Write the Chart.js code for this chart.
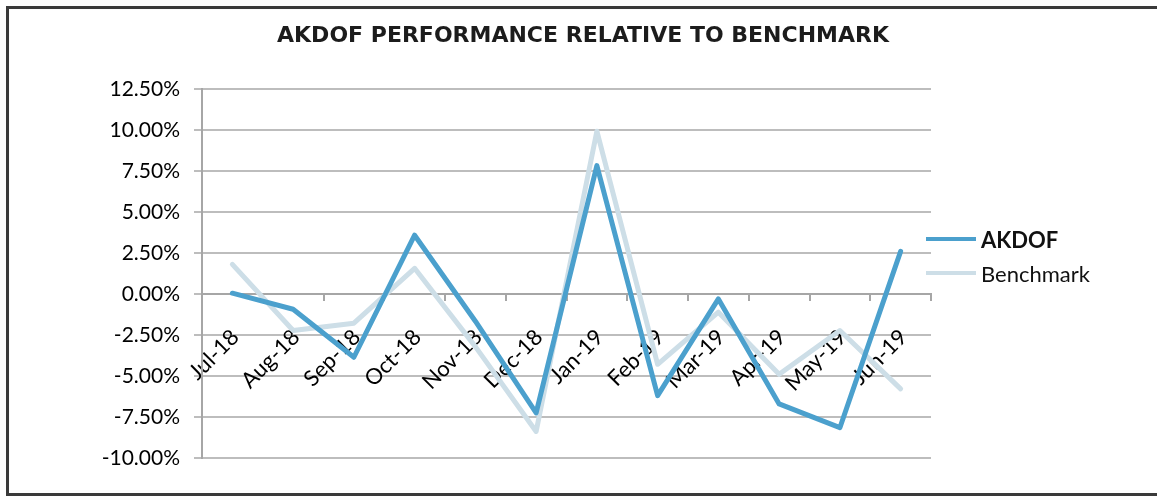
<!DOCTYPE html>
<html>
<head>
<meta charset="utf-8">
<title>AKDOF performance relative to benchmark</title>
<script src="https://cdn.jsdelivr.net/npm/chart.js@4.4.1/dist/chart.umd.min.js"></script>
<style>
  html, body { margin: 0; padding: 0; background: #fff; }
  #wrap { position: relative; width: 1157px; height: 496px; overflow: hidden; }
  #frame {
    position: absolute; left: 6px; top: 6px; width: 1200px; height: 490px;
    box-sizing: border-box; border: 3px solid #3a3a3a;
  }
  #chart { position: absolute; left: 0; top: 0; }
  #legend { position: absolute; left: 926px; top: 222px; font-family: Lato, sans-serif; font-size: 22px; color: #111; }
  #legend .item { display: flex; align-items: center; height: 34px; }
  #legend .swatch { width: 50px; height: 4px; margin-right: 5px; }
</style>
</head>
<body>
<div id="wrap">
  <div id="frame"></div>
  <canvas id="chart" width="1157" height="496"></canvas>
  <div id="legend"></div>
</div>
<script>
document.addEventListener('DOMContentLoaded', function() {

  const TITLE = 'AKDOF PERFORMANCE RELATIVE TO BENCHMARK';
  const months = ['Jul-18', 'Aug-18', 'Sep-18', 'Oct-18', 'Nov-18', 'Dec-18',
                  'Jan-19', 'Feb-19', 'Mar-19', 'Apr-19', 'May-19', 'Jun-19'];
  // monthly returns, %
  const akdof     = [0.06, -0.92, -3.85, 3.60, -1.65, -7.25, 7.85, -6.19, -0.29, -6.70, -8.15, 2.61];
  const benchmark = [1.82, -2.22, -1.77, 1.58, -3.20, -8.38, 9.95, -4.28, -1.10, -4.89, -2.22, -5.78];
  const yMin = -10, yMax = 12.5, yStep = 2.5;

  const colorAkdof = '#4ba0cd';
  const colorBench = '#cddee7';
  const colorGrid  = '#bdbdbd';
  const colorAxis  = '#a6a6a6';

  const series = [
    { label: 'AKDOF', data: akdof, color: colorAkdof, bold: true },
    { label: 'Benchmark', data: benchmark, color: colorBench, bold: false }
  ];

  new Chart(document.getElementById('chart'), {
    type: 'line',
    data: {
      labels: months,
      datasets: series.map(s => ({
        label: s.label,
        data: s.data,
        borderColor: s.color,
        backgroundColor: s.color,
        borderWidth: 5,
        borderJoinStyle: 'round',
        borderCapStyle: 'round',
        pointRadius: 0,
        tension: 0
      }))
    },
    options: {
      responsive: false,
      devicePixelRatio: 1,
      animation: false,
      layout: { padding: { left: 9, right: 0, top: 0, bottom: 38 } },
      plugins: {
        legend: { display: false },
        tooltip: { enabled: false },
        title: {
          display: true,
          text: TITLE,
          color: '#1c1c1c',
          font: { family: 'DejaVu Sans', size: 22, weight: 'bold' },
          padding: { top: 23, bottom: 40 }
        }
      },
      scales: {
        x: {
          position: { y: 0 },
          offset: true,
          grid: { display: true, offset: true, drawOnChartArea: false, drawTicks: true,
                  tickLength: 6, color: colorAxis, lineWidth: 2 },
          border: { display: true, color: colorAxis, width: 2 },
          ticks: { autoSkip: false, minRotation: 45, maxRotation: 45, padding: 24, labelOffset: 3,
                   color: '#000', font: { family: 'Lato', size: 22 } }
        },
        y: {
          min: yMin,
          max: yMax,
          afterFit: s => { s.width = 193; },
          grid: { color: colorGrid, lineWidth: 2, tickLength: 8 },
          border: { color: colorAxis, width: 2 },
          ticks: { stepSize: yStep, padding: 14, color: '#000', font: { family: 'Lato', size: 21 },
                   callback: v => v.toFixed(2) + '%' }
        },
        // empty right-hand axis that only reserves room for the legend
        legendRoom: {
          type: 'linear',
          position: 'right',
          afterFit: s => { s.width = 226; },
          grid: { display: false },
          border: { display: false },
          ticks: { display: false }
        }
      }
    }
  });

  // legend: AKDOF in bold, Benchmark regular
  const legend = document.getElementById('legend');
  series.forEach(s => {
    const item = document.createElement('div');
    item.className = 'item';
    const sw = document.createElement('span');
    sw.className = 'swatch';
    sw.style.background = s.color;
    const txt = document.createElement('span');
    txt.textContent = s.label;
    if (s.bold) txt.style.fontWeight = 'bold';
    item.appendChild(sw);
    item.appendChild(txt);
    legend.appendChild(item);
  });

});
</script>
</body>
</html>
